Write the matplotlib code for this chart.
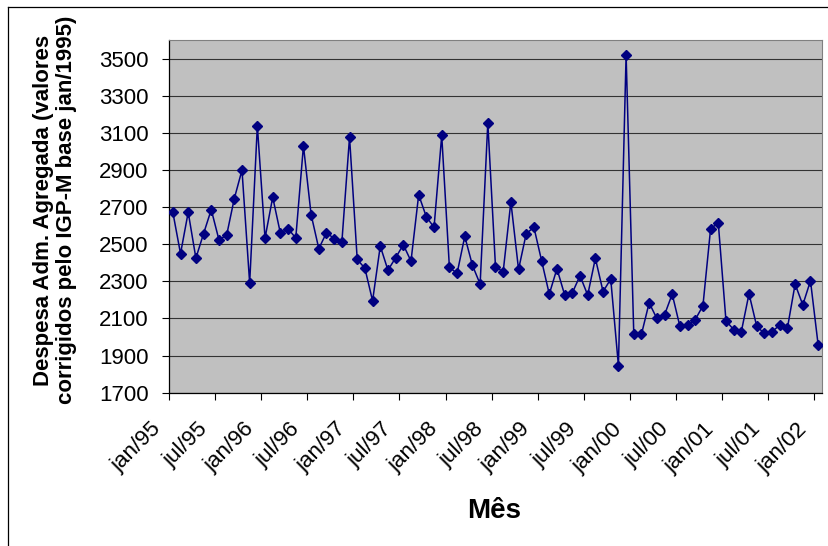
import matplotlib
matplotlib.use("Agg")
import matplotlib.pyplot as plt
from matplotlib.lines import Line2D

plt.rcParams["font.family"] = ["Liberation Sans", "DejaVu Sans"]

# monthly values, jan/95 .. jan/02
MONTHS = ["jan", "fev", "mar", "abr", "mai", "jun",
          "jul", "ago", "set", "out", "nov", "dez"]
YEARS = ["95", "96", "97", "98", "99", "00", "01", "02"]

despesa = [
    2672, 2449, 2672, 2425, 2557, 2686, 2524, 2548, 2746, 2899, 2290, 3138,
    2533, 2753, 2559, 2584, 2533, 3030, 2659, 2476, 2562, 2530, 2510, 3077,
    2418, 2370, 2195, 2490, 2360, 2427, 2497, 2409, 2766, 2647, 2591, 3086,
    2375, 2343, 2542, 2386, 2285, 3154, 2377, 2352, 2728, 2364, 2557, 2591,
    2411, 2231, 2368, 2227, 2238, 2330, 2226, 2424, 2245, 2312, 1846, 3520,
    2015, 2015, 2184, 2100, 2119, 2231, 2058, 2064, 2094, 2168, 2584, 2614,
    2087, 2040, 2029, 2233, 2058, 2019, 2029, 2064, 2049, 2285, 2173, 2303,
    1957,
]

labels = [f"{m}/{y}" for y in YEARS for m in MONTHS][:len(despesa)]
x = list(range(len(despesa)))

W, H = 829, 546
fig = plt.figure(figsize=(W / 100, H / 100), dpi=100)
ax = fig.add_axes([169 / W, 1 - 392.7 / H, (822 - 169) / W, (392.7 - 40) / H])
ax.set_facecolor("#c0c0c0")

ax.plot(x, despesa, color="#000080", linewidth=1.1, marker="D",
        markersize=5, markerfacecolor="#000080", markeredgecolor="#000080",
        zorder=3)

ax.set_xlim(-0.5, len(despesa) - 0.5)
ax.set_ylim(1700, 3600)
ax.set_yticks(range(1700, 3501, 200))
ax.yaxis.grid(True, color="#333333", linewidth=0.8)
ax.set_axisbelow(True)

# tick marks sit between categories, one label every six months
tick_pos = [i - 0.5 for i in range(0, len(despesa), 6)]
ax.set_xticks(tick_pos)
ax.set_xticklabels([])
for pos, i in zip(tick_pos, range(0, len(despesa), 6)):
    ax.annotate(labels[i], xy=(pos, 0), xycoords=("data", "axes fraction"),
                xytext=(-18, -26), textcoords="offset pixels",
                rotation=45, ha="right", va="top", rotation_mode="anchor",
                fontsize=16)

ax.tick_params(axis="both", direction="out", length=4.8, width=0.8,
               color="black", labelsize=16)
ax.tick_params(axis="y", pad=10)

for side in ("top", "right"):
    ax.spines[side].set_color("#808080")
for side in ("left", "bottom"):
    ax.spines[side].set_color("black")
    ax.spines[side].set_linewidth(0.9)

fig.text(494 / W, 1 - 511 / H, "Mês", ha="center", va="center",
         fontsize=20, fontweight="bold")
fig.text(55 / W, 1 - 210 / H,
         "Despesa Adm. Agregada (valores\ncorrigidos pelo IGP-M base jan/1995)",
         rotation=90, ha="center", va="center", multialignment="center",
         fontsize=16, fontweight="bold", linespacing=1.1)

# chart area border
fig.add_artist(Line2D([8 / W, 8 / W], [0, 1 - 7 / H], color="black",
                      linewidth=0.9, transform=fig.transFigure))
fig.add_artist(Line2D([8 / W, 1], [1 - 7 / H, 1 - 7 / H], color="black",
                      linewidth=0.9, transform=fig.transFigure))

fig.savefig("out.png", dpi=100)
